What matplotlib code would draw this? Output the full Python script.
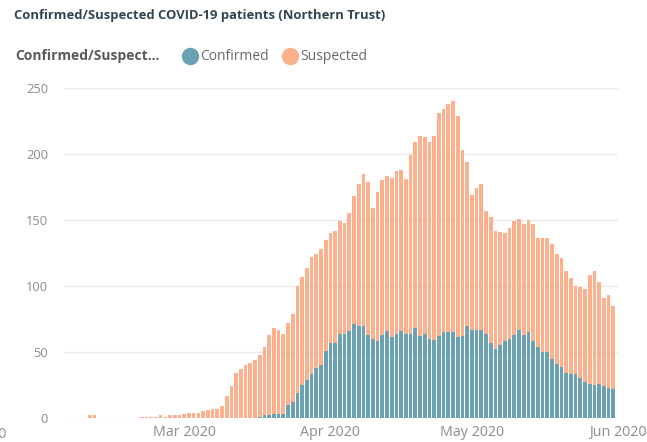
import matplotlib
matplotlib.use("Agg")
import matplotlib.pyplot as plt
import matplotlib.dates as mdates
from matplotlib.lines import Line2D
import numpy as np
import pandas as pd

plt.rcParams['font.family'] = ['Open Sans', 'DejaVu Sans']

# daily values, 10 Feb 2020 .. 31 May 2020
dates = pd.date_range('2020-02-10', '2020-05-31', freq='D')

confirmed = [0] * 36 + [
    1, 2, 2, 3, 3, 3, 10, 12, 19, 25, 29, 33, 38, 40, 51, 57, 57, 64, 64, 66,
    71, 70, 70, 63, 60, 58, 63, 66, 61, 64, 66, 64, 64, 68, 62, 64, 60, 59, 62, 65,
    65, 65, 61, 62, 70, 67, 67, 67, 64, 57, 52, 55, 58, 60, 63, 67, 63, 65, 58, 54,
    50, 50, 45, 41, 39, 34, 33, 33, 30, 27, 26, 25, 26, 24, 23, 22]

suspected = [2, 2, 0, 0, 0, 0, 0, 0, 0, 0, 0, 1, 1, 1, 1, 2, 1, 2, 2, 2,
    3, 4, 4, 4, 5, 6, 7, 7, 9, 17, 24, 34, 37, 40, 42, 44,
    47, 52, 61, 65, 64, 61, 62, 67, 81, 82, 85, 89, 86, 88, 84, 83, 85, 85, 84, 89,
    97, 107, 115, 116, 99, 113, 117, 117, 121, 123, 122, 117, 135, 141, 152, 149, 149, 155, 169, 169,
    173, 175, 168, 141, 124, 102, 107, 110, 93, 95, 90, 86, 82, 84, 86, 84, 84, 85, 89, 82,
    86, 86, 87, 83, 82, 77, 73, 67, 69, 71, 82, 86, 77, 67, 70, 63]

yticks = [0, 50, 100, 150, 200, 250]
month_ticks = ['2020-03-01', '2020-04-01', '2020-05-01', '2020-06-01']
month_labels = ['Mar 2020', 'Apr 2020', 'May 2020', 'Jun 2020']

teal = '#6aa2b3'
orange = '#fcb08e'

W, H = 647, 442
fig = plt.figure(figsize=(W / 100, H / 100), dpi=100)
ax = fig.add_axes([64 / W, 24 / H, (618 - 64) / W, (418 - 88) / H])

x = mdates.date2num(dates)
ax.bar(x, confirmed, width=0.78, color=teal, zorder=2)
ax.bar(x, suspected, width=0.78, bottom=confirmed, color=orange, zorder=2)

mar1 = mdates.date2num(pd.Timestamp('2020-03-01'))
ax.set_xlim(mar1 - 25.5, mar1 + 91.65)
ax.set_ylim(0, 250)

ax.set_yticks(yticks)
ax.set_yticklabels([str(v) for v in yticks])
ax.set_xticks(mdates.date2num(pd.to_datetime(month_ticks)))
ax.set_xticklabels(month_labels)
ax.tick_params(axis='both', length=0, labelcolor='#8c8c8c')
ax.tick_params(axis='y', pad=11.5, labelsize=9.3)
ax.tick_params(axis='x', pad=5, labelsize=10.3)
for lab in ax.get_xticklabels():
    lab.set_clip_on(False)

ax.grid(axis='y', color='#ececec', linewidth=1, zorder=0)
for s in ax.spines.values():
    s.set_visible(False)

# title and legend row
fig.text(14 / W, 1 - 16 / H, 'Confirmed/Suspected COVID-19 patients (Northern Trust)',
         fontsize=9.4, fontweight='bold', color='#34444f', va='center')
fig.text(15 / W, 1 - 56 / H, 'Confirmed/Suspect...', fontsize=10, fontweight='bold',
         color='#5a5a5a', va='center')
fig.add_artist(Line2D([190 / W], [1 - 56 / H], marker='o', markersize=11.5,
                      color=teal, transform=fig.transFigure))
fig.text(200 / W, 1 - 56 / H, 'Confirmed', fontsize=10, color='#6a6a6a', va='center')
fig.add_artist(Line2D([290 / W], [1 - 56 / H], marker='o', markersize=11.5,
                      color=orange, transform=fig.transFigure))
fig.text(300 / W, 1 - 56 / H, 'Suspected', fontsize=10, color='#6a6a6a', va='center')

# clipped label at the far left edge
fig.text(6 / W, 1 - 434 / H, 'Feb 2020', fontsize=10.3, color='#8c8c8c', ha='right', va='center')

fig.savefig('out.png', dpi=100)
